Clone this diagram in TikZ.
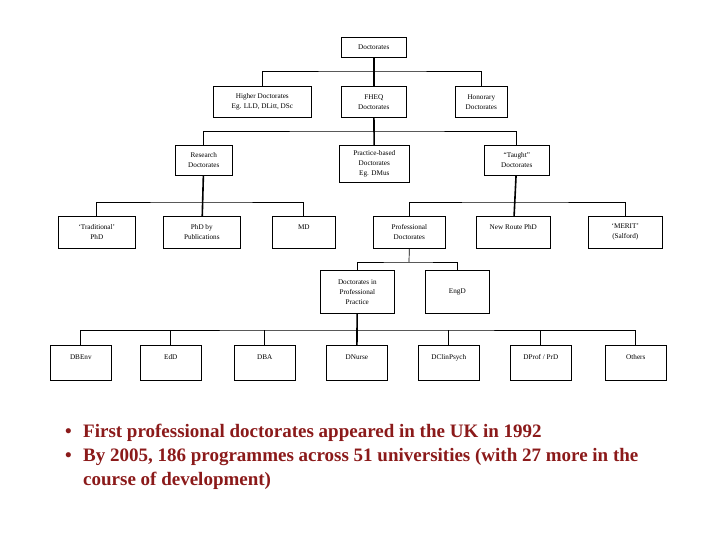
\documentclass[tikz,border=0pt]{standalone}
\usepackage{fontspec}
\setmainfont{Liberation Serif}
\definecolor{dred}{HTML}{8B1A1A}
\begin{document}
\begin{tikzpicture}[x=1pt,y=-1pt,
  bx/.style={draw,line width=0.6pt,fill=white,font=\fontsize{7.2}{10}\selectfont,align=center,inner sep=0pt},
  ln/.style={line width=0.7pt},
  tk/.style={line width=1.6pt},
  bl/.style={anchor=base west,text=dred,font=\fontsize{19}{24}\selectfont\bfseries,inner sep=0pt}]
\useasboundingbox (0,0) rectangle (720,540);
\newcommand{\bxat}[6]{\node[bx,minimum width=#4,minimum height=#5,anchor=north west] (#1) at (#2,#3) {#6};}
\bxat{doc}{341}{37}{65}{20}{Doctorates}
\bxat{high}{213}{86}{98}{31}{Higher Doctorates\\Eg. LLD, DLitt, DSc}
\bxat{fheq}{341}{86}{65}{31}{FHEQ\\Doctorates}
\bxat{hon}{455}{86}{52}{31}{Honorary\\Doctorates}
\bxat{res}{175}{145}{57}{30}{Research\\Doctorates}
\bxat{prac}{339}{145}{70}{37}{Practice-based\\Doctorates\\Eg. DMus}
\bxat{taught}{484}{145}{65}{30}{``Taught''\\Doctorates}
\bxat{trad}{58}{216}{77}{32}{`Traditional'\\PhD}
\bxat{pubs}{163}{216}{77}{32}{PhD by\\Publications}
\bxat{md}{272}{216}{63}{32}{}
\node[font=\fontsize{7.2}{10}\selectfont,anchor=north] (mdt) at (md.north) [yshift=-5pt] {MD};
\bxat{prof}{373}{216}{72}{32}{Professional\\Doctorates}
\bxat{nr}{476}{216}{74}{32}{}
\node[font=\fontsize{7.2}{10}\selectfont,anchor=north] (nrt) at (nr.north) [yshift=-5pt] {New Route PhD};
\bxat{merit}{588}{216}{74}{32}{`MERIT'\\(Salford)}
\bxat{dpp}{320}{270}{74}{43}{Doctorates in\\Professional\\Practice}
\bxat{eng}{425}{270}{64}{43}{EngD}
\foreach \n/\x/\t in {benv/50/DBEnv,edd/140/EdD,dba/234/DBA,dn/326/DNurse,dcp/418/DClinPsych,dp/510/{DProf / PrD},oth/605/Others}
  {\bxat{\n}{\x}{345}{61}{35}{}
   \node[font=\fontsize{7.2}{10}\selectfont,anchor=north] at (\n.north) [yshift=-6pt] {\t};}
% connectors
\coordinate (j1) at (373,71);
\draw[tk] (doc) -- (fheq);
\draw[ln] (high.north) |- (j1) -| (hon.north);
\coordinate (j2) at (374,131);
\draw[tk] (fheq) -- (prac);
\draw[ln] (res.north) |- (j2) -| (taught.north);
\coordinate (j3) at (203,202);
\draw[tk] (res) -- (pubs);
\draw[ln] (trad.north) |- (j3) -| (md.north);
\coordinate (j4) at (513,202);
\draw[tk] (taught) -- (nr);
\draw[ln] (prof.north) |- (j4) -| (merit.north);
\coordinate (j5) at (409,262);
\draw[ln] (prof.south) -- (j5);
\draw[ln] (dpp.north) |- (j5) -| (eng.north);
\coordinate (j6) at (356,330);
\draw[tk] (dpp) -- (dn);
\draw[ln] (benv.north) |- (j6) -| (oth.north);
\foreach \n in {edd,dba,dcp,dp} \draw[ln] (\n.north) -- (\n.north |- j6);
% bullets
\node[bl] (b1) at (65,437) {\textbullet};
\node[bl] (t1) at (83,437) {First professional doctorates appeared in the UK in 1992};
\node[bl] (b2) at (65,461) {\textbullet};
\node[bl] (t2) at (83,461) {By 2005, 186 programmes across 51 universities (with 27 more in the};
\node[bl] (t3) at (83,485) {course of development)};
\end{tikzpicture}
\end{document}
